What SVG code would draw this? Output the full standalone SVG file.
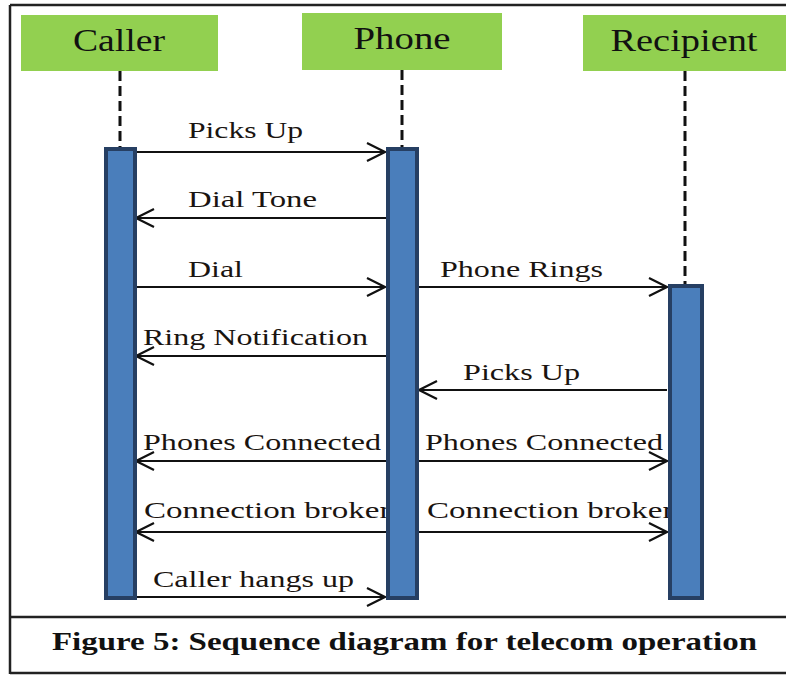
<svg xmlns="http://www.w3.org/2000/svg" width="786" height="675" viewBox="0 0 786 675">
<defs>
<marker id="open" viewBox="0 0 20 20" refX="19" refY="10" markerWidth="20" markerHeight="20" markerUnits="userSpaceOnUse" orient="auto-start-reverse">
<path d="M1,1 L19,10 L1,19" fill="none" stroke="#111" stroke-width="2.2"/>
</marker>
</defs>
<style>
.frame{fill:none;stroke:#222;stroke-width:2.5}
.head{fill:#92d050}
.htxt{font-family:"Liberation Serif","Times New Roman",serif;font-size:31px;fill:#111;text-anchor:middle}
.life{stroke:#111;stroke-width:3;stroke-dasharray:10,5}
.bar{fill:#4a7ebb;stroke:#263f63;stroke-width:4}
.msg{stroke:#111;stroke-width:2;fill:none}
.lbl{font-family:"Liberation Serif","Times New Roman",serif;font-size:24px;fill:#1a1410}
.cap{font-family:"Liberation Serif","Times New Roman",serif;font-size:25px;font-weight:bold;fill:#111}
</style>
<rect x="0" y="0" width="786" height="675" fill="#fff"/>
<g id="frame">
<line x1="10" y1="5" x2="786" y2="5" class="frame"/>
<line x1="10" y1="5" x2="10" y2="674" class="frame"/>
<line x1="10" y1="673" x2="786" y2="673" class="frame" stroke="#999"/>
<line x1="10" y1="617" x2="786" y2="617" class="frame"/>
</g>
<g id="caller">
<rect x="21" y="15" width="197" height="56" class="head"/>
<text x="119" y="51" class="htxt" textLength="92" lengthAdjust="spacingAndGlyphs">Caller</text>
<line x1="120" y1="71" x2="120" y2="148" class="life"/>
</g>
<g id="phone">
<rect x="302" y="13" width="200" height="57" class="head"/>
<text x="402" y="49" class="htxt" textLength="97" lengthAdjust="spacingAndGlyphs">Phone</text>
<line x1="402" y1="70" x2="402" y2="148" class="life"/>
</g>
<g id="recipient">
<rect x="583" y="15" width="203" height="56" class="head"/>
<text x="684" y="51" class="htxt" textLength="147" lengthAdjust="spacingAndGlyphs">Recipient</text>
<line x1="685" y1="71" x2="685" y2="285" class="life"/>
</g>
<g id="labels">
<text x="188" y="138" class="lbl" textLength="115" lengthAdjust="spacingAndGlyphs">Picks Up</text>
<text x="188" y="207" class="lbl" textLength="129" lengthAdjust="spacingAndGlyphs">Dial Tone</text>
<text x="188" y="277" class="lbl" textLength="55" lengthAdjust="spacingAndGlyphs">Dial</text>
<text x="440" y="277" class="lbl" textLength="163" lengthAdjust="spacingAndGlyphs">Phone Rings</text>
<text x="143" y="345" class="lbl" textLength="225" lengthAdjust="spacingAndGlyphs">Ring Notification</text>
<text x="463" y="380" class="lbl" textLength="117" lengthAdjust="spacingAndGlyphs">Picks Up</text>
<text x="143" y="450" class="lbl" textLength="238" lengthAdjust="spacingAndGlyphs">Phones Connected</text>
<text x="425" y="450" class="lbl" textLength="238" lengthAdjust="spacingAndGlyphs">Phones Connected</text>
<text x="144" y="518" class="lbl" textLength="252" lengthAdjust="spacingAndGlyphs">Connection broken</text>
<text x="427" y="518" class="lbl" textLength="252" lengthAdjust="spacingAndGlyphs">Connection broken</text>
<text x="153" y="587" class="lbl" textLength="201" lengthAdjust="spacingAndGlyphs">Caller hangs up</text>
</g>
<g id="connectors">
<line x1="135" y1="152" x2="385" y2="152" class="msg" marker-end="url(#open)"/>
<line x1="386" y1="218" x2="136" y2="218" class="msg" marker-end="url(#open)"/>
<line x1="135" y1="287" x2="385" y2="287" class="msg" marker-end="url(#open)"/>
<line x1="418" y1="287" x2="667" y2="287" class="msg" marker-end="url(#open)"/>
<line x1="386" y1="356" x2="136" y2="356" class="msg" marker-end="url(#open)"/>
<line x1="667" y1="390" x2="419" y2="390" class="msg" marker-end="url(#open)"/>
<line x1="136" y1="461" x2="386" y2="461" class="msg" marker-start="url(#open)"/>
<line x1="418" y1="461" x2="667" y2="461" class="msg" marker-end="url(#open)"/>
<line x1="136" y1="532" x2="386" y2="532" class="msg" marker-start="url(#open)"/>
<line x1="418" y1="532" x2="667" y2="532" class="msg" marker-end="url(#open)"/>
<line x1="135" y1="597" x2="385" y2="597" class="msg" marker-end="url(#open)"/>
</g>
<g id="bars">
<rect x="106" y="149" width="29" height="449" class="bar"/>
<rect x="388" y="149" width="29" height="449" class="bar"/>
<rect x="670" y="286" width="32" height="312" class="bar"/>
</g>
<g id="caption">
<text x="52" y="650" class="cap" textLength="705" lengthAdjust="spacingAndGlyphs">Figure 5: Sequence diagram for telecom operation</text>
</g>
</svg>
